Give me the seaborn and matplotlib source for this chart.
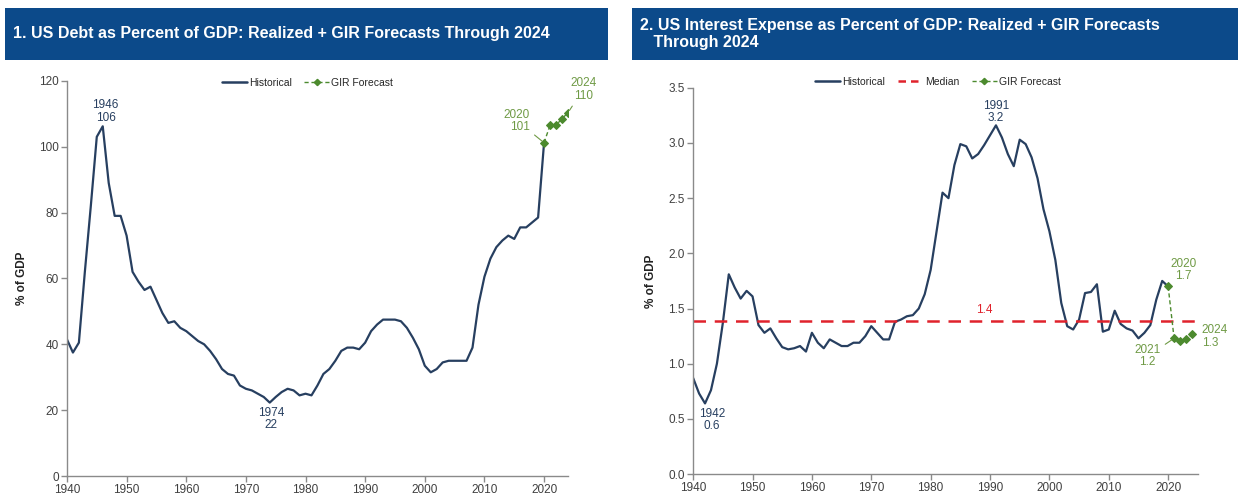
import matplotlib
matplotlib.use("Agg")
import matplotlib.pyplot as plt
from matplotlib.patches import Rectangle
from matplotlib.lines import Line2D
import seaborn as sns
import pandas as pd

# ---- Data -------------------------------------------------------------
debt_years = list(range(1940, 2021))
debt_hist = [41.5, 37.5, 40.5, 62.0, 82.0, 103.0, 106.2, 89.0, 79.0, 79.0,
             73.0, 62.0, 59.0, 56.5, 57.5, 53.5, 49.5, 46.5, 47.0, 45.0,
             44.0, 42.5, 41.0, 40.0, 38.0, 35.5, 32.5, 31.0, 30.5, 27.5,
             26.5, 26.0, 25.0, 24.0, 22.3, 24.0, 25.5, 26.5, 26.0, 24.5,
             25.0, 24.5, 27.5, 31.0, 32.5, 35.0, 38.0, 39.0, 39.0, 38.5,
             40.5, 44.0, 46.0, 47.5, 47.5, 47.5, 47.0, 45.0, 42.0, 38.5,
             33.5, 31.5, 32.5, 34.5, 35.0, 35.0, 35.0, 35.0, 39.0, 52.0,
             60.5, 66.0, 69.5, 71.5, 73.0, 72.0, 75.5, 75.5, 77.0, 78.5,
             101.2]
debt_fc_years = [2020, 2021, 2022, 2023, 2024]
debt_fc = [101.2, 106.5, 106.5, 108.5, 110.3]

int_years = list(range(1940, 2021))
int_hist = [0.87, 0.73, 0.64, 0.76, 1.00, 1.37, 1.81, 1.69, 1.59, 1.66,
            1.61, 1.35, 1.28, 1.32, 1.23, 1.15, 1.13, 1.14, 1.16, 1.11,
            1.28, 1.19, 1.14, 1.22, 1.19, 1.16, 1.16, 1.19, 1.19, 1.25,
            1.34, 1.28, 1.22, 1.22, 1.38, 1.40, 1.43, 1.44, 1.50, 1.63,
            1.85, 2.20, 2.55, 2.50, 2.80, 2.99, 2.97, 2.86, 2.90, 2.98,
            3.07, 3.16, 3.05, 2.90, 2.79, 3.03, 2.99, 2.87, 2.68, 2.40,
            2.20, 1.94, 1.55, 1.34, 1.31, 1.40, 1.64, 1.65, 1.72, 1.29,
            1.31, 1.48, 1.36, 1.32, 1.30, 1.23, 1.28, 1.35, 1.58, 1.75,
            1.70]
int_fc_years = [2020, 2021, 2022, 2023, 2024]
int_fc = [1.70, 1.23, 1.21, 1.22, 1.27]
int_median = 1.39

titles = ["1. US Debt as Percent of GDP: Realized + GIR Forecasts Through 2024",
          "2. US Interest Expense as Percent of GDP: Realized + GIR Forecasts\n   Through 2024"]

# ---- Style ------------------------------------------------------------
sns.set_style("ticks")
plt.rcParams["font.family"] = ["Liberation Sans", "DejaVu Sans"]

NAVY = "#0c4a8a"
HIST = "#273f60"
GREEN = "#4c8a2e"
GREEN_TXT = "#6f9a45"
RED = "#e0222c"
AXIS = "#8a8a8a"
TICKTXT = "#404040"

fig = plt.figure(figsize=(12.4, 4.99), dpi=100)

# Title banners
for x0, w, txt in [(0.004, 0.486, titles[0]), (0.510, 0.488, titles[1])]:
    fig.patches.append(Rectangle((x0, 0.880), w, 0.104, transform=fig.transFigure,
                                 facecolor=NAVY, edgecolor="none", zorder=0))
    fig.text(x0 + 0.0065, 0.932, txt, color="white", fontsize=11.5,
             fontweight="bold", va="center", ha="left", linespacing=1.15)

ax1 = fig.add_axes([0.054, 0.046, 0.404, 0.792])
ax2 = fig.add_axes([0.559, 0.050, 0.407, 0.774])

df_debt = pd.DataFrame({"year": debt_years, "value": debt_hist})
df_debt_fc = pd.DataFrame({"year": debt_fc_years, "value": debt_fc})
df_int = pd.DataFrame({"year": int_years, "value": int_hist})
df_int_fc = pd.DataFrame({"year": int_fc_years, "value": int_fc})

# ---- Left: debt -------------------------------------------------------
sns.lineplot(data=df_debt, x="year", y="value", ax=ax1, color=HIST, lw=1.6)
sns.lineplot(data=df_debt_fc, x="year", y="value", ax=ax1, color=GREEN, lw=1.0,
             linestyle=(0, (3, 2)), marker="D", markersize=3.6,
             markeredgecolor=GREEN)
ax1.set_xlim(1940, 2024)
ax1.set_ylim(0, 120)
ax1.set_yticks(range(0, 121, 20))
ax1.set_xticks(range(1940, 2021, 10))

# ---- Right: interest --------------------------------------------------
sns.lineplot(data=df_int, x="year", y="value", ax=ax2, color=HIST, lw=1.6)
ax2.axhline(int_median, color=RED, lw=1.8, linestyle=(0, (5, 3.5)))
sns.lineplot(data=df_int_fc, x="year", y="value", ax=ax2, color=GREEN, lw=1.0,
             linestyle=(0, (3, 2)), marker="D", markersize=3.6,
             markeredgecolor=GREEN)
ax2.set_xlim(1940, 2025)
ax2.set_ylim(0, 3.5)
ax2.set_yticks([0.0, 0.5, 1.0, 1.5, 2.0, 2.5, 3.0, 3.5])
ax2.set_yticklabels([f"{v:.1f}" for v in ax2.get_yticks()])
ax2.set_xticks(range(1940, 2021, 10))

for ax in (ax1, ax2):
    sns.despine(ax=ax)
    ax.set_xlabel("")
    ax.set_ylabel("% of GDP", fontsize=8.5, fontweight="bold", color="#222222",
                  labelpad=8)
    for s in ("left", "bottom"):
        ax.spines[s].set_color(AXIS)
        ax.spines[s].set_linewidth(1.0)
    ax.tick_params(axis="both", colors=AXIS, labelcolor=TICKTXT, labelsize=8.5,
                   length=4, width=1.0, pad=2)

# ---- Annotations ------------------------------------------------------
def note(ax, x, y, txt, dx, dy, color, ha="center", va="bottom", arrow=False):
    kw = {}
    if arrow:
        kw["arrowprops"] = dict(arrowstyle="-", color=color, lw=0.8,
                                shrinkA=1, shrinkB=2)
    ax.annotate(txt, (x, y), xytext=(dx, dy), textcoords="offset points",
                ha=ha, va=va, color=color, fontsize=8.5, linespacing=1.05,
                annotation_clip=False, **kw)

i46 = debt_years.index(1946)
note(ax1, 1946, debt_hist[i46], f"1946\n{debt_hist[i46]:.0f}", 2, 2, HIST)
i74 = debt_years.index(1974)
note(ax1, 1974, debt_hist[i74], f"1974\n{debt_hist[i74]:.0f}", 1, -3, HIST, va="top")
note(ax1, 2020, debt_fc[0], f"2020\n{debt_fc[0]:.0f}", -10, 7, GREEN_TXT,
     ha="right", arrow=True)
note(ax1, 2024, debt_fc[-1], f"2024\n{debt_fc[-1]:.0f}", 11, 8, GREEN_TXT,
     arrow=True)

i42 = int_years.index(1942)
note(ax2, 1942, int_hist[i42], f"1942\n{int_hist[i42]:.1f}", 5, -3, HIST, va="top")
i91 = int_years.index(1991)
note(ax2, 1991, int_hist[i91], f"1991\n{int_hist[i91]:.1f}", 0, 1, HIST)
ax2.annotate(f"{int_median:.1f}", (1989, int_median), xytext=(0, 3),
             textcoords="offset points", ha="center", va="bottom",
             color=RED, fontsize=8.5)
note(ax2, 2020, int_fc[0], f"2020\n{int_fc[0]:.1f}", 11, 3, GREEN_TXT)
note(ax2, 2021, int_fc[1], f"2021\n{int_fc[1]:.1f}", -19, -4, GREEN_TXT,
     va="top", arrow=True)
note(ax2, 2024, int_fc[-1], f"2024\n{int_fc[-1]:.1f}", 7, -2, GREEN_TXT,
     ha="left", va="center")

# ---- Legends ----------------------------------------------------------
h_hist = Line2D([], [], color=HIST, lw=1.8)
h_fc = Line2D([], [], color=GREEN, lw=1.0, linestyle=(0, (3, 2)), marker="D",
              markersize=3.2)
h_med = Line2D([], [], color=RED, lw=1.8, linestyle=(0, (3, 2)))

ax1.legend([h_hist, h_fc], ["Historical", "GIR Forecast"], loc="center",
           bbox_to_anchor=(0.48, 0.995), ncol=2, frameon=False, fontsize=7.5,
           handlelength=2.4, handletextpad=0.2, columnspacing=1.2)
ax2.legend([h_hist, h_med, h_fc], ["Historical", "Median", "GIR Forecast"],
           loc="center", bbox_to_anchor=(0.485, 1.016), ncol=3, frameon=False,
           fontsize=7.5, handlelength=2.4, handletextpad=0.2, columnspacing=1.2)

fig.savefig("out.png", dpi=100, facecolor="white")
